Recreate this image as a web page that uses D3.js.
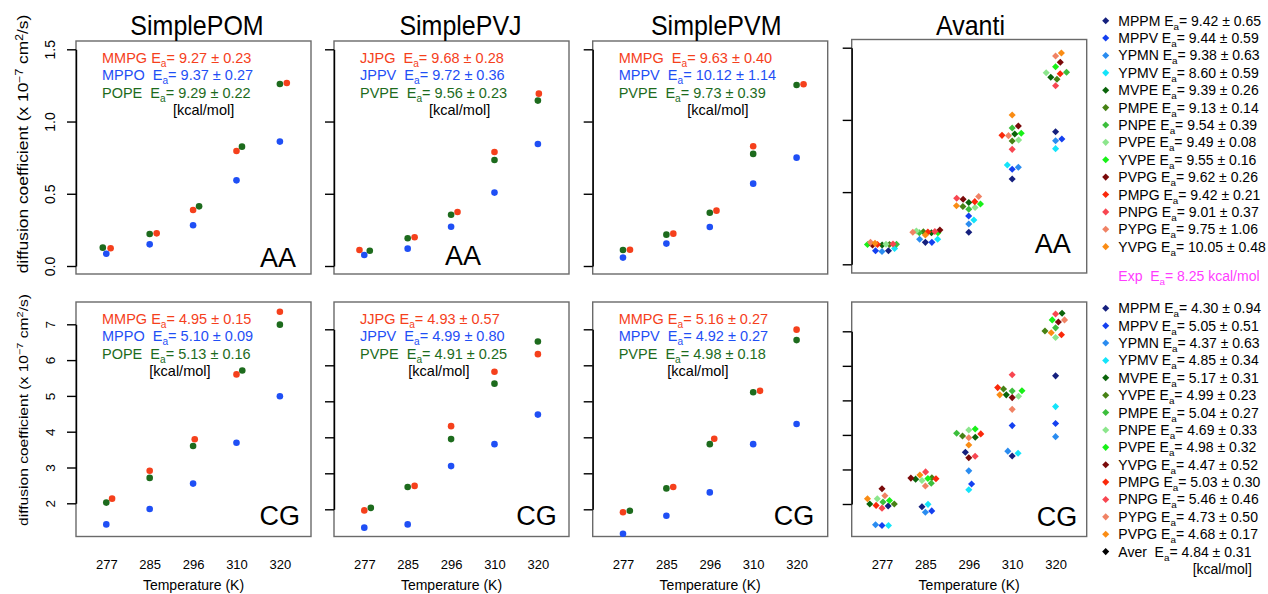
<!DOCTYPE html>
<html>
<head>
<meta charset="utf-8">
<script src="https://cdn.jsdelivr.net/npm/d3@7"></script>
<style>
  body { margin: 0; background: #fff; }
  svg { display: block; font-family: "Liberation Sans", Arial, sans-serif; }
  text { white-space: pre; }
</style>
</head>
<body>
<svg id="chart" width="1268" height="594"></svg>
<script>
// ---- data ----
const temps = ["277", "285", "296", "310", "320"];

// simple models, all-atom (AA), diffusion coefficient x 1e-7 cm2/s
const pomAA_MMPG = [0.123, 0.226, 0.388, 0.796, 1.267];
const pomAA_MPPO = [0.085, 0.150, 0.282, 0.593, 0.861];
const pomAA_POPE = [0.127, 0.222, 0.413, 0.826, 1.260];
const pvjAA_JJPG = [0.111, 0.199, 0.374, 0.789, 1.193];
const pvjAA_JPPV = [0.076, 0.120, 0.272, 0.508, 0.845];
const pvjAA_PVPE = [0.106, 0.192, 0.355, 0.734, 1.145];
const pvmAA_MMPG = [0.113, 0.224, 0.383, 0.829, 1.258];
const pvmAA_MPPV = [0.058, 0.155, 0.270, 0.570, 0.750];
const pvmAA_PVPE = [0.111, 0.217, 0.369, 0.776, 1.253];

// simple models, coarse-grained (CG)
const pomCG_MMPG = [2.13, 2.91, 3.79, 5.60, 7.35];
const pomCG_MPPO = [1.41, 1.84, 2.55, 3.69, 4.99];
const pomCG_POPE = [2.02, 2.71, 3.60, 5.71, 6.99];
const pvjCG_JJPG = [1.97, 2.65, 4.31, 5.82, 6.31];
const pvjCG_JPPV = [1.49, 1.58, 3.20, 3.81, 4.63];
const pvjCG_PVPE = [2.04, 2.62, 3.95, 5.49, 6.66];
const pvmCG_MMPG = [1.92, 2.62, 3.96, 5.29, 6.99];
const pvmCG_MPPV = [1.32, 1.82, 2.47, 3.81, 4.37];
const pvmCG_PVPE = [1.96, 2.58, 3.81, 5.25, 6.70];

// activation energies [Ea, error] kcal/mol
const pomAA_Ea = [[9.27, 0.23], [9.37, 0.27], [9.29, 0.22]];
const pvjAA_Ea = [[9.68, 0.28], [9.72, 0.36], [9.56, 0.23]];
const pvmAA_Ea = [[9.63, 0.40], [10.12, 1.14], [9.73, 0.39]];
const pomCG_Ea = [[4.95, 0.15], [5.10, 0.09], [5.13, 0.16]];
const pvjCG_Ea = [[4.93, 0.57], [4.99, 0.80], [4.91, 0.25]];
const pvmCG_Ea = [[5.16, 0.27], [4.92, 0.27], [4.98, 0.18]];

const pomAA_labels = ["MMPG ", "MPPO  ", "POPE  "];
const pvjAA_labels = ["JJPG  ", "JPPV  ", "PVPE  "];
const pvmAA_labels = ["MMPG  ", "MPPV  ", "PVPE  "];
const pomCG_labels = ["MMPG ", "MPPO  ", "POPE  "];
const pvjCG_labels = ["JJPG ", "JPPV  ", "PVPE  "];
const pvmCG_labels = ["MMPG ", "MPPV  ", "PVPE  "];

// Avanti lipids, AA
const avantiAA_names = ["MPPM", "MPPV", "YPMN", "YPMV", "MVPE", "PMPE", "PNPE",
                        "PVPE", "YVPE", "PVPG", "PMPG", "PNPG", "PYPG", "YVPG"];
const avantiAA_Ea  = [9.42, 9.44, 9.38, 8.60, 9.39, 9.13, 9.54, 9.49, 9.55, 9.62, 9.42, 9.01, 9.75, 10.05];
const avantiAA_err = [0.65, 0.59, 0.63, 0.59, 0.26, 0.14, 0.39, 0.08, 0.16, 0.26, 0.21, 0.37, 1.06, 0.48];
const avantiAA_277 = [0.094, 0.094, 0.089, 0.109, 0.134, 0.137, 0.139, 0.139, 0.137, 0.134, 0.137, 0.141, 0.152, 0.145];
const avantiAA_285 = [0.152, 0.152, 0.173, 0.173, 0.219, 0.226, 0.219, 0.231, 0.219, 0.238, 0.224, 0.227, 0.222, 0.203];
const avantiAA_296 = [0.222, 0.334, 0.279, 0.307, 0.428, 0.400, 0.381, 0.393, 0.418, 0.450, 0.434, 0.457, 0.470, 0.406];
const avantiAA_310 = [0.591, 0.658, 0.672, 0.688, 0.902, 0.854, 0.944, 0.861, 0.907, 0.958, 0.893, 0.796, 0.891, 1.034];
const avantiAA_320 = [0.918, 0.868, 0.856, 0.801, 1.295, 1.281, 1.330, 1.327, 1.368, 1.399, 1.320, 1.237, 1.443, 1.463];
const expEa = 8.25;

// Avanti lipids, CG
const avantiCG_names = ["MPPM", "MPPV", "YPMN", "YPMV", "MVPE", "YVPE", "PMPE",
                        "PNPE", "PVPE", "YVPG", "PMPG", "PNPG", "PYPG", "PVPG"];
const avantiCG_Ea  = [4.30, 5.05, 4.37, 4.85, 5.17, 4.99, 5.04, 4.69, 4.98, 4.47, 5.03, 5.46, 4.73, 4.68];
const avantiCG_err = [0.94, 0.51, 0.63, 0.34, 0.31, 0.23, 0.27, 0.33, 0.32, 0.52, 0.30, 0.46, 0.50, 0.17];
const avantiCG_277 = [1.94, 1.38, 1.40, 1.38, 2.00, 2.00, 2.06, 2.15, 2.10, 2.44, 1.96, 1.88, 2.24, 2.15];
const avantiCG_285 = [1.92, 1.80, 1.76, 1.99, 2.72, 2.76, 2.60, 2.68, 2.74, 2.75, 2.73, 2.93, 2.52, 2.84];
const avantiCG_296 = [3.50, 2.58, 2.96, 2.41, 3.93, 3.97, 4.05, 4.14, 4.17, 3.34, 4.03, 3.38, 3.92, 3.71];
const avantiCG_310 = [3.39, 4.27, 3.53, 3.47, 5.16, 5.33, 5.27, 5.12, 5.28, 5.08, 5.37, 5.74, 4.74, 5.16];
const avantiCG_320 = [5.71, 4.33, 3.95, 4.82, 7.52, 7.01, 7.10, 6.82, 7.33, 7.27, 6.90, 7.50, 7.33, 6.96];
const averCG = [4.84, 0.31];

const aaTicks = [0, 0.5, 1.0, 1.5];
const cgTicks = [2, 3, 4, 5, 6, 7];

// ---- styles ----
const simpleColors = ["#f5401c", "#1f4ff5", "#1d6b1d"];
const avantiColors = ["#15207e", "#1440f0", "#2a8cf0", "#14e4fa", "#0a640a", "#468214", "#3cbe3c",
                      "#8ce68c", "#18f018", "#7a0a0a", "#fa280a", "#f84650", "#f08264", "#fa8c14"];
const magenta = "#ff3cff";
const legendFont = 14;

const svg = d3.select("#chart");
svg.append("rect").attr("width", 1268).attr("height", 594).attr("fill", "#fff");

const boxW = 235;
const panelLeft = [76, 334, 592.7, 851.7];
const titleDx = [3.5, 9, 6, 1.3];

// write "NAME E_a= x ± y" with a subscript
const eaLabel = (sel, prefix, ea, err, size) => {
  sel.append("tspan").text(prefix + "E");
  sel.append("tspan").attr("dy", 4).style("font-size", (size * 0.7) + "px").text("a");
  sel.append("tspan").attr("dy", -4).text("= " + ea.toFixed(2) + " \u00b1 " + err.toFixed(2));
};

// beeswarm style offsets (ascending order, closest to centre);
// past maxHalf the points are squeezed in where they overlap least
const swarmOffsets = (ys, d, maxHalf) => {
  const order = d3.range(ys.length).sort((a, b) => (ys[b] - ys[a]) || (a - b));
  const placed = [];
  const off = new Array(ys.length);
  const minDist = (x, yy) => d3.min(placed, p => Math.hypot(x - p.x, yy - p.y)) ?? Infinity;
  for (const i of order) {
    const cands = [0];
    for (const p of placed) {
      const dy = Math.abs(ys[i] - p.y);
      if (dy < d) {
        const dx = Math.sqrt(d * d - dy * dy);
        cands.push(p.x + dx, p.x - dx);
      }
    }
    const ok = cands.filter(x => placed.every(p => (x - p.x) ** 2 + (ys[i] - p.y) ** 2 >= d * d - 0.01));
    ok.sort((a, b) => (Math.abs(a) - Math.abs(b)) || (b - a));
    let best = ok[0];
    if (Math.abs(best) > maxHalf) {
      let bestD = -1;
      for (let x = 0; x <= maxHalf; x += 0.5) {
        for (const s of [x, -x]) {
          const md = minDist(s, ys[i]);
          if (md > bestD + 1e-6) { bestD = md; best = s; }
        }
      }
    }
    off[i] = best;
    placed.push({ x: best, y: ys[i] });
  }
  return off;
};

const diamond = d3.symbol(d3.symbolSquare).size(25);

const drawPanel = (p) => {
  const L = panelLeft[p.col];
  const g = svg.append("g");
  const x = d3.scaleLinear().domain([0.302, 5.717]).range([L, L + boxW]);
  const y = d3.scaleLinear().domain(p.domain).range(p.range);

  // frame
  g.append("rect")
    .attr("x", L).attr("y", p.boxTop)
    .attr("width", boxW).attr("height", p.boxBottom - p.boxTop)
    .attr("fill", "none").attr("stroke", "#6a6a6a").attr("stroke-width", 1.4);

  // y axis
  const yAxis = g.append("g")
    .attr("transform", `translate(${L},0)`)
    .call(d3.axisLeft(y).tickValues(p.ticks).tickSize(9).tickSizeOuter(0)
      .tickFormat(p.col === 0 ? p.tickFmt : ""));
  yAxis.select(".domain").attr("stroke", "#000").attr("stroke-width", 1.4);
  yAxis.selectAll(".tick line").attr("stroke", "#000").attr("stroke-width", 1.4);
  yAxis.selectAll(".tick text")
    .attr("transform", "rotate(-90)")
    .attr("x", 0).attr("y", -21).attr("dy", 0)
    .attr("text-anchor", "middle")
    .style("font-size", p.tickSize + "px")
    .style("font-family", "Liberation Sans, Arial, sans-serif")
    .attr("fill", "#000");

  // x labels (bottom row)
  if (p.xLabels) {
    const xAxis = g.append("g")
      .attr("transform", `translate(0,${p.boxBottom})`)
      .call(d3.axisBottom(x).tickValues([1, 2, 3, 4, 5]).tickSize(0).tickPadding(23)
        .tickFormat(i => temps[i - 1]));
    xAxis.select(".domain").remove();
    xAxis.selectAll(".tick text")
      .style("font-size", "13px")
      .style("font-family", "Liberation Sans, Arial, sans-serif")
      .attr("fill", "#000");
    g.append("text")
      .attr("x", L + boxW / 2).attr("y", 589.5)
      .attr("text-anchor", "middle")
      .style("font-size", "14px")
      .text("Temperature (K)");
  }

  // points
  const pts = [];
  for (let c = 0; c < 5; c++) {
    const ys = p.series.map(s => y(s.values[c]));
    const off = swarmOffsets(ys, p.spacing, p.maxHalf);
    p.series.forEach((s, k) => pts.push({ k, cx: x(c + 1) + off[k], cy: ys[k], color: s.color }));
  }
  pts.sort((a, b) => a.k - b.k);
  if (p.shape === "circle") {
    g.selectAll("circle.pt").data(pts).join("circle")
      .attr("class", "pt")
      .attr("cx", d => d.cx).attr("cy", d => d.cy).attr("r", 3.3)
      .attr("fill", d => d.color);
  } else {
    g.selectAll("path.pt").data(pts).join("path")
      .attr("class", "pt")
      .attr("d", diamond)
      .attr("transform", d => `translate(${d.cx},${d.cy}) rotate(45)`)
      .attr("fill", d => d.color);
  }

  // Ea annotations
  if (p.labels) {
    p.labels.forEach((lab, i) => {
      const t = g.append("text")
        .attr("x", L + 26).attr("y", p.textY + i * 17.5)
        .attr("fill", simpleColors[i])
        .style("font-size", "14.5px");
      eaLabel(t, lab, p.ea[i][0], p.ea[i][1], 14.5);
    });
    g.append("text")
      .attr("x", L + p.kcalDx).attr("y", p.textY + 52.5)
      .style("font-size", "14.5px")
      .text("[kcal/mol]");
  }

  if (p.tag) {
    g.append("text")
      .attr("x", L + p.tag.dx).attr("y", p.tag.y)
      .attr("text-anchor", p.tag.anchor)
      .style("font-size", "27px")
      .text(p.tag.text);
  }

  if (p.title) {
    g.append("text")
      .attr("transform", `translate(${L + boxW / 2 + titleDx[p.col]},34.5) scale(1,1.1)`)
      .attr("text-anchor", "middle")
      .style("font-size", "25px")
      .text(p.title);
  }
};

const simple = (vals) => vals.map((v, i) => ({ values: v, color: simpleColors[i] }));
const byTemp = (cols) => cols[0].map((_, k) => ({ values: cols.map(c => c[k]), color: avantiColors[k] }));

const aaRow = { domain: [0, 1.5], ticks: aaTicks, tickFmt: d3.format(".1f"), tickSize: 14,
                boxTop: 41, boxBottom: 274, textY: 62.5, maxHalf: 40 };
const cgRow = { domain: [2, 7], ticks: cgTicks, tickFmt: d3.format("d"), tickSize: 13.5,
                boxTop: 302, boxBottom: 536.5, textY: 323.5, xLabels: true, maxHalf: 40 };

// top row
drawPanel({ ...aaRow, col: 0, range: [266, 49.3], title: "SimplePOM", shape: "circle", spacing: 7,
  series: simple([pomAA_MMPG, pomAA_MPPO, pomAA_POPE]), labels: pomAA_labels, ea: pomAA_Ea, kcalDx: 97,
  tag: { text: "AA", anchor: "end", dx: 220, y: 266.5 } });
drawPanel({ ...aaRow, col: 1, range: [266, 49.3], title: "SimplePVJ", shape: "circle", spacing: 7,
  series: simple([pvjAA_JJPG, pvjAA_JPPV, pvjAA_PVPE]), labels: pvjAA_labels, ea: pvjAA_Ea, kcalDx: 95,
  tag: { text: "AA", anchor: "middle", dx: 129, y: 265 } });
drawPanel({ ...aaRow, col: 2, range: [266, 49.3], title: "SimplePVM", shape: "circle", spacing: 7,
  series: simple([pvmAA_MMPG, pvmAA_MPPV, pvmAA_PVPE]), labels: pvmAA_labels, ea: pvmAA_Ea, kcalDx: 94.6 });
drawPanel({ ...aaRow, col: 3, range: [264.3, 47.7], boxTop: 39.5, boxBottom: 273, title: "Avanti",
  shape: "diamond", spacing: 6.5, maxHalf: 14.5,
  series: byTemp([avantiAA_277, avantiAA_285, avantiAA_296, avantiAA_310, avantiAA_320]),
  tag: { text: "AA", anchor: "end", dx: 219, y: 253 } });

// bottom row
drawPanel({ ...cgRow, col: 0, range: [503.3, 324.3], shape: "circle", spacing: 7,
  series: simple([pomCG_MMPG, pomCG_MPPO, pomCG_POPE]), labels: pomCG_labels, ea: pomCG_Ea, kcalDx: 73.3,
  tag: { text: "CG", anchor: "end", dx: 224, y: 524.5 } });
drawPanel({ ...cgRow, col: 1, range: [509.3, 329.3], shape: "circle", spacing: 7,
  series: simple([pvjCG_JJPG, pvjCG_JPPV, pvjCG_PVPE]), labels: pvjCG_labels, ea: pvjCG_Ea, kcalDx: 74.3,
  tag: { text: "CG", anchor: "end", dx: 222.7, y: 524.5 } });
drawPanel({ ...cgRow, col: 2, range: [509.3, 329.3], shape: "circle", spacing: 7,
  series: simple([pvmCG_MMPG, pvmCG_MPPV, pvmCG_PVPE]), labels: pvmCG_labels, ea: pvmCG_Ea, kcalDx: 74.6,
  tag: { text: "CG", anchor: "end", dx: 221.6, y: 525 } });
drawPanel({ ...cgRow, col: 3, range: [504, 331.3], shape: "diamond", spacing: 6.5, maxHalf: 14.5,
  series: byTemp([avantiCG_277, avantiCG_285, avantiCG_296, avantiCG_310, avantiCG_320]),
  tag: { text: "CG", anchor: "end", dx: 225.6, y: 525.5 } });

// y axis titles (stretched along their length like the source image)
const yTitle = (cy, size, stretch) => {
  const t = svg.append("text")
    .attr("transform", `translate(28,${cy}) rotate(-90) scale(${stretch},1)`)
    .attr("text-anchor", "middle")
    .style("font-size", size + "px");
  t.append("tspan").text("diffusion coefficient (x 10");
  t.append("tspan").attr("dy", -5).style("font-size", (size * 0.7) + "px").text("\u22127");
  t.append("tspan").attr("dy", 5).text(" cm");
  t.append("tspan").attr("dy", -5).style("font-size", (size * 0.7) + "px").text("2");
  t.append("tspan").attr("dy", 5).text("/s)");
};
yTitle(144, 14.5, 1.2);
yTitle(410, 13, 1.2);

// legends
const legend = (names, ea, err, y0) => {
  const g = svg.append("g");
  names.forEach((n, i) => {
    const cy = y0 + i * 17.38;
    g.append("path").attr("d", diamond)
      .attr("transform", `translate(1105.7,${cy}) rotate(45)`)
      .attr("fill", avantiColors[i]);
    const t = g.append("text").attr("x", 1118.3).attr("y", cy + 5).style("font-size", legendFont + "px");
    eaLabel(t, n + " ", ea[i], err[i], legendFont);
  });
  return g;
};
legend(avantiAA_names, avantiAA_Ea, avantiAA_err, 20.7);
const expText = svg.append("text").attr("x", 1118.3).attr("y", 281)
  .attr("fill", magenta).style("font-size", legendFont + "px");
expText.append("tspan").text("Exp  E");
expText.append("tspan").attr("dy", 4).style("font-size", (legendFont * 0.7) + "px").text("a");
expText.append("tspan").attr("dy", -4).text("= " + expEa.toFixed(2) + " kcal/mol");

const lg2 = legend(avantiCG_names, avantiCG_Ea, avantiCG_err, 308.3);
const averY = 308.3 + 14 * 17.38;
lg2.append("path").attr("d", diamond)
  .attr("transform", `translate(1105.7,${averY}) rotate(45)`)
  .attr("fill", "#000");
eaLabel(lg2.append("text").attr("x", 1118.3).attr("y", averY + 5).style("font-size", legendFont + "px"),
  "Aver  ", averCG[0], averCG[1], legendFont);
lg2.append("text").attr("x", 1192.7).attr("y", averY + 22.5).style("font-size", legendFont + "px").text("[kcal/mol]");
</script>
</body>
</html>
